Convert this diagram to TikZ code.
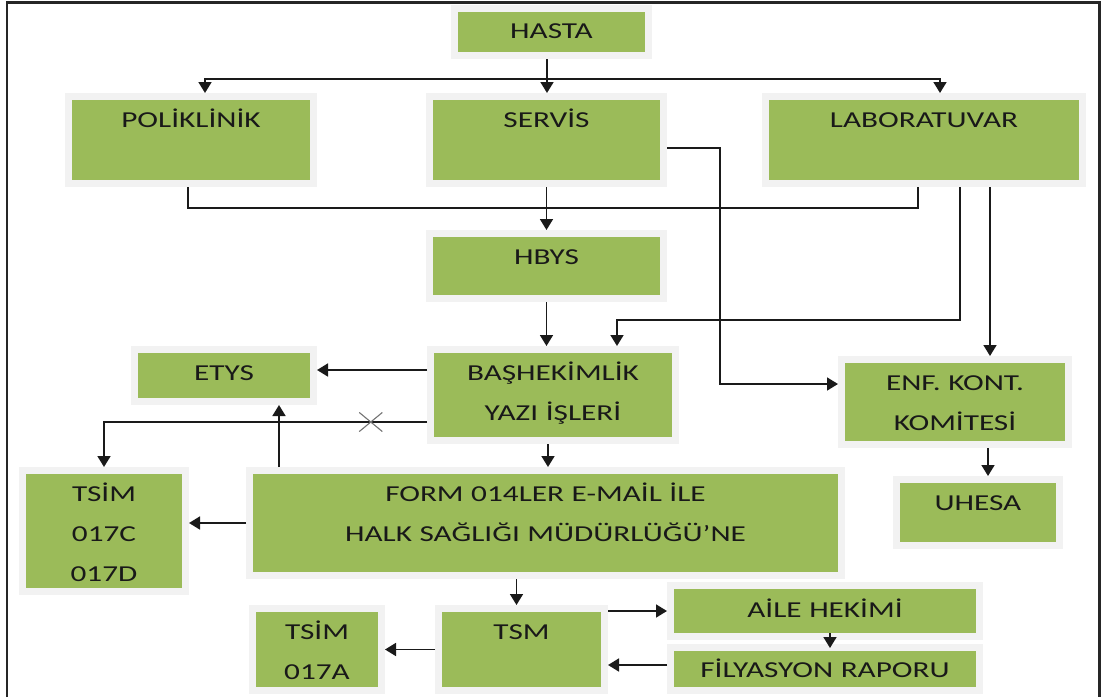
\documentclass[tikz,border=0pt]{standalone}
\usepackage{fontspec}
\setmainfont{Carlito}[FakeStretch=1.37]
\usetikzlibrary{arrows.meta, positioning, shapes.misc}
\definecolor{boxgreen}{HTML}{9BBB59}
\definecolor{boxgrey}{HTML}{F2F2F2}
\definecolor{wiregrey}{HTML}{1A1A1A}

\begin{document}
\begin{tikzpicture}[
  x=1pt, y=-1pt,
  box/.style={rectangle, fill=boxgreen, draw=boxgrey, line width=7pt,
              inner sep=0pt, align=center, text height=31pt,
              font={\fontsize{22.8pt}{40pt}\selectfont}, text=black!90},
  wire/.style={draw=wiregrey, line width=1.7pt},
  arrow/.style={wire, -{Triangle[length=11pt, width=13pt]}},
  xmark/.style={cross out, draw=black!55, line width=1.1pt,
                minimum width=22pt, minimum height=18pt, inner sep=0pt}
]
\useasboundingbox (0,0) rectangle (1101,697);

\node[box, text width=194pt, text height=29.5pt, text depth=17.5pt] (hasta) at (551.5,32) {HASTA};
\node[box, text width=245pt, text depth=56pt] (pol) at (191,140) {POLİKLİNİK};
\node[box, text width=234pt, text depth=56pt] (serv) at (546.5,140) {SERVİS};
\node[box, text width=317pt, text depth=56pt] (lab) at (924,140) {LABORATUVAR};
\node[box, text width=234pt, text depth=34pt, below=43pt of serv] (hbys) {HBYS};
\node[box, text width=245pt, text depth=60pt] (bas) at (553,395) {BAŞHEKİMLİK\\YAZI İŞLERİ};
\node[box, text width=179pt, text depth=21pt] (etys) at (224,375.5) {ETYS};
\node[box, text width=227pt, text depth=54pt] (enf) at (955,402) {ENF. KONT.\\KOMİTESİ};
\node[box, text width=163pt, text depth=35pt] (uhesa) at (978,512.5) {UHESA};
\node[box, text width=163pt, text depth=90pt] (tsimc) at (104,531) {TSİM\\017C\\017D};
\node[box, text width=592pt, text depth=74pt] (form) at (545.5,523) {FORM 014LER E-MAİL İLE\\HALK SAĞLIĞI MÜDÜRLÜĞÜ’NE};
\node[box, text width=166pt, text depth=51pt] (tsm) at (521.5,649.5) {TSM};
\node[box, text width=129pt, text depth=51pt, left=50pt of tsm] (tsima) {TSİM\\017A};
\node[box, text width=309pt, text height=31.5pt, text depth=19.5pt] (aile) at (825,611) {AİLE HEKİMİ};
\node[box, text width=309pt, text height=29.5pt, text depth=13.5pt, below=4pt of aile] (fil) {FİLYASYON RAPORU};

\coordinate (split) at (547,79);
\coordinate (merge) at (547,208);
\coordinate (labturn) at (617,320);
\coordinate (servturn) at (720,148);

\draw[wire] (hasta.south -| split) -- (split);
\draw[arrow] (split) -- (split |- serv.north);
\draw[arrow] (split) -| ([xshift=14pt]pol.north);
\draw[arrow] (split) -| ([xshift=16pt]lab.north);
\draw[wire] ([xshift=-3pt]pol.south) |- (merge) -| ([xshift=-6pt]lab.south);
\draw[arrow] (serv.south) -- (hbys.north);
\draw[arrow] (servturn -| serv.east) -- (servturn) |- ([yshift=18pt]enf.west);
\draw[arrow] ([xshift=36pt]lab.south) |- (labturn) -- (labturn |- bas.north);
\draw[arrow] ([xshift=66pt]lab.south) -- ([xshift=66pt]lab.south |- enf.north);
\draw[arrow] (hbys.south) -- (hbys.south |- bas.north);
\draw[arrow] ([yshift=25pt]bas.west) -- ([yshift=25pt]bas.west -| etys.east);
\draw[arrow] ([yshift=-27pt]bas.west) -| node[xmark, pos=0.087] (cut) {} (tsimc.north);
\draw[arrow] ([xshift=-266.5pt]form.north) -- ([xshift=-266.5pt]form.north |- etys.south);
\draw[arrow] (form.west) -- (form.west -| tsimc.east);
\draw[arrow] ([xshift=-5pt]bas.south) -- ([xshift=-5pt]bas.south |- form.north);
\draw[arrow] ([xshift=-5pt]tsm.north |- form.south) -- ([xshift=-5pt]tsm.north);
\draw[arrow] (tsm.east |- aile.west) -- (aile.west);
\draw[arrow] ([xshift=5pt, yshift=7pt]aile.south) -- ([xshift=5pt, yshift=-4pt]fil.north);
\draw[arrow] ([yshift=4pt]fil.west) -- ([yshift=4pt]fil.west -| tsm.east);
\draw[arrow] (tsm.west) -- (tsm.west -| tsima.east);
\draw[arrow] ([xshift=10pt]uhesa.north |- enf.south) -- ([xshift=10pt]uhesa.north);

\draw[line width=2.5pt, black!85] (7,697) |- (1099.5,2.25) -- (1099.5,697);
\end{tikzpicture}
\end{document}
